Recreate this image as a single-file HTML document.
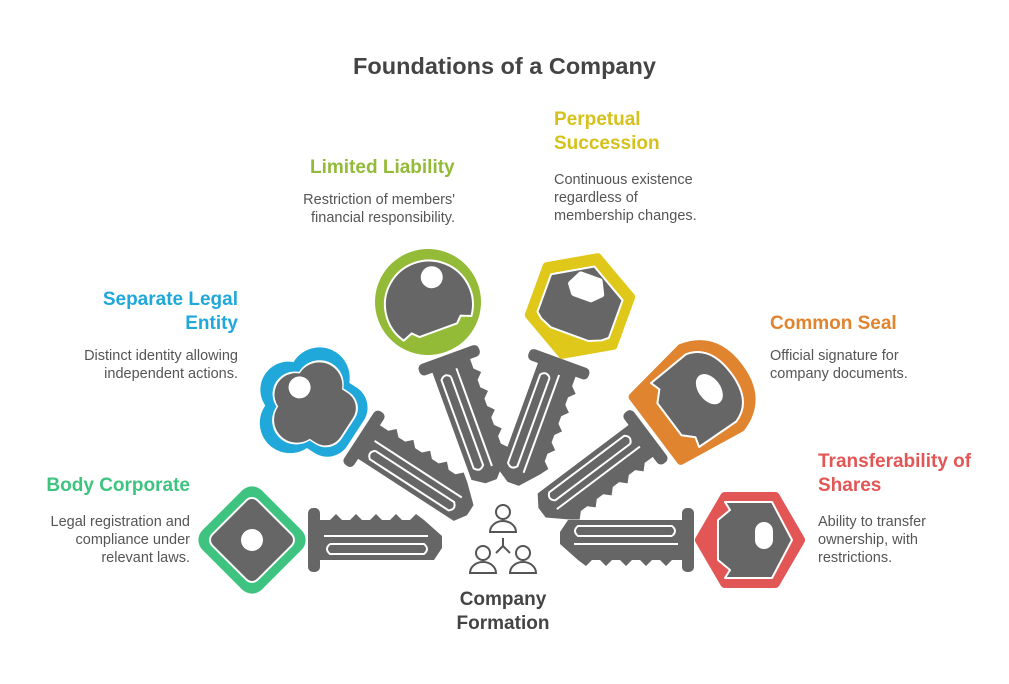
<!DOCTYPE html>
<html><head><meta charset="utf-8"><style>
body{margin:0;width:1009px;height:684px;background:#fff;overflow:hidden;font-family:"Liberation Sans",Arial,sans-serif}
.t{position:absolute;font-weight:bold;font-size:19px;line-height:24px}
.d{position:absolute;font-size:14.5px;line-height:18px;color:#555}
.r{text-align:right}
</style></head><body>
<svg width="1009" height="684" style="position:absolute;left:0;top:0">
<defs>
<g id="blade1">
<rect x="56" y="-32" width="12" height="64" rx="5" fill="#666"/>
<path d="M66,-20 L78,-20 L84,-26 L90,-20 L98,-20 L104,-26 L110,-20 L118,-20 L124,-26 L130,-20 L138,-20 L144,-26 L150,-20 L158,-20 L164,-26 L172,-20 L190,-4 L190,8 L182,20 L66,20 Z" fill="#666"/>
<path d="M72,-4 L176,-4 M78,4 L172,4 Q178,9 172,14 L78,14 Q72,9 78,4" stroke="#fff" stroke-width="2" fill="none"/>
</g>
<g id="cloud"><circle cx="-8" cy="-25" r="28"/><circle cx="-8" cy="25" r="28"/><circle cx="-26" cy="0" r="26"/><rect x="-10" y="-36" width="58" height="72" rx="22"/></g>
</defs>
<!-- Key 1 green -->
<g transform="translate(252,540)">
<use href="#blade1"/>
<rect x="-42" y="-42" width="84" height="84" rx="14" transform="rotate(45)" fill="#3fc380"/>
<rect x="-32" y="-32" width="64" height="64" rx="8" transform="rotate(45)" fill="#666" stroke="#fff" stroke-width="2"/>
<circle cx="0" cy="0" r="11" fill="#fff"/>
</g>
<!-- Key 2 blue -->
<g transform="translate(312,405) rotate(33)">
<use href="#blade1"/>
<g fill="#21a8da" transform="scale(1.08)"><use href="#cloud"/></g>
<g fill="#fff" transform="translate(2,0) scale(0.86)"><use href="#cloud"/></g>
<g fill="#666" transform="translate(2,0) scale(0.82)"><use href="#cloud"/></g>
<circle cx="-20" cy="-8" r="11" fill="#fff"/>
</g>
<!-- Key 3 lime -->
<g transform="translate(428,302) rotate(70)">
<use href="#blade1"/>
<circle r="53" fill="#93bb38"/>
<path d="M28,-36 A44,44 0 1 0 28,36 L24,26 L30,20 L30,-20 L24,-26 Z" fill="#666" stroke="#fff" stroke-width="2"/>
<circle cx="-22" cy="-12" r="11" fill="#fff"/>
</g>
<!-- Key 4 yellow -->
<g transform="translate(580,306) rotate(110)">
<use href="#blade1"/>
<polygon points="52,0 26,45 -26,45 -52,0 -26,-45 26,-45" fill="#e0c81a" stroke="#e0c81a" stroke-width="8" stroke-linejoin="round"/>
<path d="M25,-32 L20,-38 L-20,-38 L-42,0 L-20,38 L20,38 L25,32 L30,20 L30,-20Z" fill="#666" stroke="#fff" stroke-width="2" stroke-linejoin="round"/>
<path d="M-30,-10 L-18,-16 L-10,-8 L-10,10 L-18,16 L-30,10Z" fill="#fff" stroke="#fff" stroke-width="6" stroke-linejoin="round"/>
</g>
<!-- Key 5 orange -->
<g transform="translate(695,400) rotate(143)">
<use href="#blade1"/>
<path d="M48,-40 L48,40 L-20,50 Q-55,40 -55,0 Q-55,-40 -20,-50Z" fill="#e08430" stroke="#e08430" stroke-width="8" stroke-linejoin="round"/>
<path d="M25,-40 L22,-30 L32,-20 L32,20 L22,30 L25,40 L-20,42 Q-45,35 -45,0 Q-45,-35 -20,-42Z" fill="#666" stroke="#fff" stroke-width="2" stroke-linejoin="round"/>
<ellipse cx="-18" cy="0" rx="11" ry="17" fill="#fff"/>
</g>
<!-- Key 6 red -->
<g transform="translate(750,540) rotate(180)">
<use href="#blade1"/>
<polygon points="50,0 25,43 -25,43 -50,0 -25,-43 25,-43" fill="#e35656" stroke="#e35656" stroke-width="10" stroke-linejoin="round"/>
<path d="M25,-38 L20,-30 L32,-20 L32,20 L20,30 L25,38 L-22,38 L-42,0 L-22,-38Z" fill="#666" stroke="#fff" stroke-width="2" stroke-linejoin="round"/>
<rect x="-23" y="-8" width="18" height="27" rx="9" fill="#fff" transform="rotate(180 -14 5)"/>
</g>
<!-- icon -->
<g stroke="#555" stroke-width="2" fill="none">
<circle cx="503" cy="512" r="7"/><path d="M490,532 A13,11 0 0 1 516,532 Z"/>
<circle cx="483" cy="553" r="7"/><path d="M470,573 A13,11 0 0 1 496,573 Z"/>
<circle cx="523" cy="553" r="7"/><path d="M510,573 A13,11 0 0 1 536,573 Z"/>
<path d="M503,538 L503,546 M503,546 L496,553 M503,546 L510,553"/>
</g>
</svg>
<div class="t" style="left:0;width:1009px;top:54px;text-align:center;font-size:23.5px;color:#444">Foundations of a Company</div>
<div class="t" style="left:310px;top:156px;color:#93bb38">Limited Liability</div>
<div class="d r" style="left:255px;width:200px;top:191px">Restriction of members'<br>financial responsibility.</div>
<div class="t" style="left:554px;top:108px;color:#d6c11a">Perpetual<br>Succession</div>
<div class="d" style="left:554px;top:171px">Continuous existence<br>regardless of<br>membership changes.</div>
<div class="t r" style="left:30px;width:208px;top:288px;color:#21a8da">Separate Legal<br>Entity</div>
<div class="d r" style="left:30px;width:208px;top:347px">Distinct identity allowing<br>independent actions.</div>
<div class="t" style="left:770px;top:312px;color:#e08430">Common Seal</div>
<div class="d" style="left:770px;top:347px">Official signature for<br>company documents.</div>
<div class="t r" style="left:0;width:190px;top:474px;color:#3fc380">Body Corporate</div>
<div class="d r" style="left:0;width:190px;top:513px">Legal registration and<br>compliance under<br>relevant laws.</div>
<div class="t" style="left:818px;top:450px;color:#e35656">Transferability of<br>Shares</div>
<div class="d" style="left:818px;top:513px">Ability to transfer<br>ownership, with<br>restrictions.</div>
<div class="t" style="left:403px;width:200px;top:588px;text-align:center;color:#444">Company<br>Formation</div>
</body></html>
